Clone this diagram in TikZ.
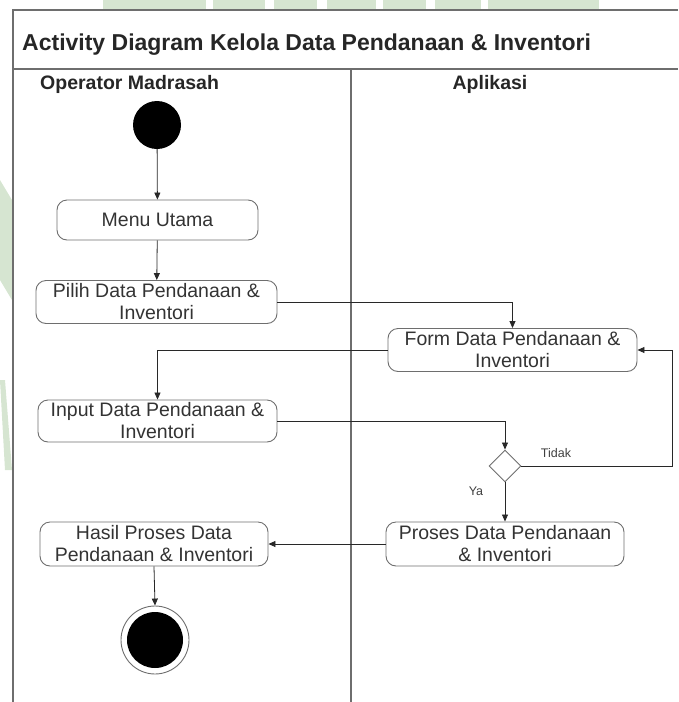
\documentclass[tikz,border=0pt]{standalone}
\usepackage{fontspec}
\setmainfont{Liberation Sans}
\usetikzlibrary{shapes.geometric,arrows.meta}
\definecolor{wm}{RGB}{214,229,209}
\definecolor{frame}{RGB}{110,110,110}
\definecolor{edge}{RGB}{40,40,40}
\begin{document}
\begin{tikzpicture}[x=1pt,y=-1pt,
  act/.style={draw=frame,line width=0.9pt,rounded corners=10pt,align=center,
    font=\fontsize{19.5}{22}\selectfont,inner sep=0pt,text=black!80},
  flow/.style={draw=edge,line width=0.8pt,-{Triangle[length=7pt,width=6pt]}},
  lbl/.style={font=\fontsize{12.5}{14}\selectfont,text=black!75},
  hdr/.style={font=\bfseries\fontsize{19.5}{22}\selectfont,text=black!85}]
\useasboundingbox (0,0) rectangle (678,702);
% watermark
\foreach \a/\b in {103/206,213/265,274/317,327/376,383/426,435/481,488/599}
  \fill[wm] (\a,0) rectangle (\b,10);
\fill[wm] (0,180) -- (12,200) -- (12,300) -- (0,280) -- cycle;
\fill[wm] (0,380) -- (5,380) -- (12,470) -- (5,470) -- cycle;
% frame
\draw[frame,line width=1.4pt] (678,10) -- (13,10) -- (13,702);
\draw[frame,line width=1.4pt] (13,69) -- (678,69);
\draw[frame,line width=1.2pt] (351,69) -- (351,702);
\node[anchor=west,font=\bfseries\fontsize{23}{26}\selectfont,text=black!85,inner sep=0pt] (title) at (22,45) {Activity Diagram Kelola Data Pendanaan \& Inventori};
\node[hdr,anchor=west,inner sep=0pt] (h1) at (40,84) {Operator Madrasah};
\node[hdr] (h2) at (490,84) {Aplikasi};
% nodes
\node[circle,fill=black,minimum size=48pt,inner sep=0pt] (start) at (157,125) {};
\node[act,minimum width=201pt,minimum height=40pt] (menu) at (157.5,220) {Menu Utama};
\node[act,minimum width=241pt,minimum height=43pt] (pilih) at (156.5,302) {Pilih Data Pendanaan \&\\Inventori};
\node[act,minimum width=249pt,minimum height=43pt] (form) at (512.5,350) {Form Data Pendanaan \&\\Inventori};
\node[act,minimum width=239pt,minimum height=42pt] (input) at (157.5,421) {Input Data Pendanaan \&\\Inventori};
\node[diamond,draw=frame,line width=0.9pt,minimum width=32pt,minimum height=32pt,inner sep=0pt] (dec) at (505,466) {};
\node[act,minimum width=238pt,minimum height=44pt] (proses) at (505,544) {Proses Data Pendanaan\\\& Inventori};
\node[act,minimum width=228pt,minimum height=44pt] (hasil) at (154,544) {Hasil Proses Data\\Pendanaan \& Inventori};
\node[circle,draw=frame,line width=0.9pt,minimum size=68pt,inner sep=0pt] (endo) at (155,640) {};
\node[circle,fill=black,minimum size=56pt,inner sep=0pt] (endi) at (endo) {};
% edges
\draw[flow] (start) -- (menu);
\draw[flow] (menu) -- (pilih);
\draw[flow] (pilih.east) -| (form.north);
\draw[flow] (form.west) -| (input.north);
\draw[flow] (input.east) -| (dec.north);
\coordinate (loop) at (672,350);
\draw[flow] (dec.east) -| (loop) -- (form.east);
\draw[flow] (dec.south) -- (proses.north);
\draw[flow] (proses.west) -- (hasil.east);
\draw[flow] (hasil.south) -- (endo.north);
\node[lbl] (tidak) at (556,453) {Tidak};
\node[lbl] (ya) at (476,491) {Ya};
\end{tikzpicture}
\end{document}
